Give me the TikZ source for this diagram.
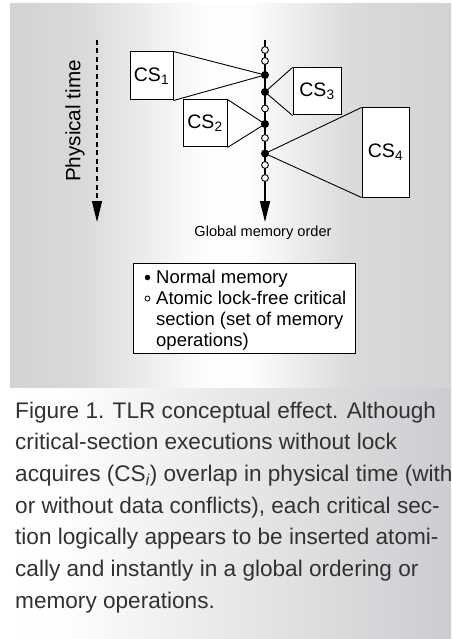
\documentclass[tikz,border=0pt]{standalone}
\usepackage{fontspec}
\setmainfont{Liberation Sans}
\usetikzlibrary{arrows.meta}
\definecolor{panelgray}{RGB}{210,211,213}
\definecolor{capgray}{RGB}{204,205,208}
\definecolor{captext}{RGB}{50,50,50}
% the path is mapped onto 25bp..75bp of these shadings
\pgfdeclarehorizontalshading{toppanel}{100bp}{%
  color(0bp)=(panelgray); color(25bp)=(panelgray);
  color(33bp)=(panelgray!85!white); color(47bp)=(white!96!panelgray);
  color(52bp)=(white!96!panelgray);
  color(64bp)=(panelgray!85!white); color(75bp)=(panelgray); color(100bp)=(panelgray)}
\pgfdeclarehorizontalshading{bottompanel}{100bp}{%
  color(0bp)=(white); color(25bp)=(white); color(32bp)=(white!97!capgray);
  color(55bp)=(capgray!55!white); color(75bp)=(capgray); color(100bp)=(capgray)}
\begin{document}
\begin{tikzpicture}[x=1pt,y=-1pt,
  csbox/.style={draw,fill=white,line width=1pt,inner sep=0pt,
    font=\fontsize{19.5}{22}\selectfont},
  fulldot/.style={circle,fill=black,inner sep=0pt,minimum size=8pt},
  opendot/.style={circle,draw=black,fill=white,line width=0.9pt,inner sep=0pt,minimum size=6.8pt},
  keyfull/.style={circle,fill=black,inner sep=0pt,minimum size=5.5pt},
  keyopen/.style={circle,draw=black,fill=white,line width=0.8pt,inner sep=0pt,minimum size=5pt},
  feed/.style={line width=0.9pt},
  bigtip/.style={-{Triangle[length=21pt,width=10pt]}},
  legline/.style={anchor=base west,inner sep=0pt,font=\fontsize{18.5}{21}\selectfont}
]
\useasboundingbox (0,0) rectangle (451,639);

% backgrounds
\shade[shading=toppanel] (10,4) rectangle (451,388);
\shade[shading=bottompanel] (0,388) rectangle (451,639);

% physical time axis
\coordinate (pt0) at (97,40);
\coordinate (pt1) at (97,222);
\draw[line width=1.2pt,dash pattern=on 5pt off 3.5pt,bigtip] (pt0) -- (pt1);
\node[rotate=90,font=\fontsize{20.7}{24}\selectfont,inner sep=0pt] (ptime) at (75,121) {Physical time};

% global memory order axis
\coordinate (g0) at (265,40);
\coordinate (g1) at (265,222);
\draw[line width=1.3pt,bigtip] (g0) -- (g1);
\node[font=\fontsize{14.6}{17}\selectfont,inner sep=0pt] (gmo) at (263,233) {Global memory order};

% critical sections
\node[csbox,minimum width=43pt,minimum height=48pt] (cs1) at (151.5,76) {CS\textsubscript{1}};
\node[csbox,minimum width=48pt,minimum height=47pt] (cs3) at (317,91.5) {CS\textsubscript{3}};
\node[csbox,minimum width=44pt,minimum height=47pt] (cs2) at (205,123.5) {CS\textsubscript{2}};
\node[csbox,minimum width=47pt,minimum height=89pt] (cs4) at (385.5,152.5) {CS\textsubscript{4}};

% memory operations on the global order
\coordinate (m1) at (265,75);
\coordinate (m3) at (265,92);
\coordinate (m2) at (265,124);
\coordinate (m4) at (265,153.5);

\draw[feed] (cs1.north east) -- (m1) -- (cs1.south east);
\draw[feed] (cs3.north west) -- (m3) -- (cs3.south west);
\draw[feed] (cs2.north east) -- (m2) -- (cs2.south east);
\draw[feed] (cs4.north west) -- (m4) -- (cs4.south west);

\node[opendot] (o1) at (265,50) {};
\node[opendot] (o2) at (265,61) {};
\node[fulldot] (f1) at (m1) {};
\node[fulldot] (f3) at (m3) {};
\node[opendot] (o3) at (265,108.5) {};
\node[fulldot] (f2) at (m2) {};
\node[opendot] (o4) at (265,138) {};
\node[fulldot] (f4) at (m4) {};
\node[opendot] (o5) at (265,165) {};
\node[opendot] (o6) at (265,178) {};

% legend
\node[draw,fill=white,line width=1pt,anchor=north west,minimum width=222pt,minimum height=90pt,inner sep=0pt] (legend) at (133,263) {};
\node[keyfull] (k1) at (147.5,277.5) {};
\node[keyopen] (k2) at (147.5,298.5) {};
\node[legline] (l1) at (156,283) {Normal memory};
\node[legline] (l2) at (156,304) {Atomic lock-free critical};
\node[legline] (l3) at (156,325) {section (set of memory};
\node[legline] (l4) at (156,346) {operations)};

% caption (anchored at the baseline of its last line)
\node[anchor=base west,inner sep=0pt,align=left,text=captext,
  font=\fontsize{22.6}{31.7}\selectfont] (caption) at (15,608.2)
  {Figure 1. TLR conceptual effect. Although\\
   critical-section executions without lock\\
   acquires (CS\textsubscript{\itshape i}) overlap in physical time (with\\
   or without data conflicts), each critical sec-\\
   tion logically appears to be inserted atomi-\\
   cally and instantly in a global ordering or\\
   memory operations.};
\end{tikzpicture}
\end{document}
